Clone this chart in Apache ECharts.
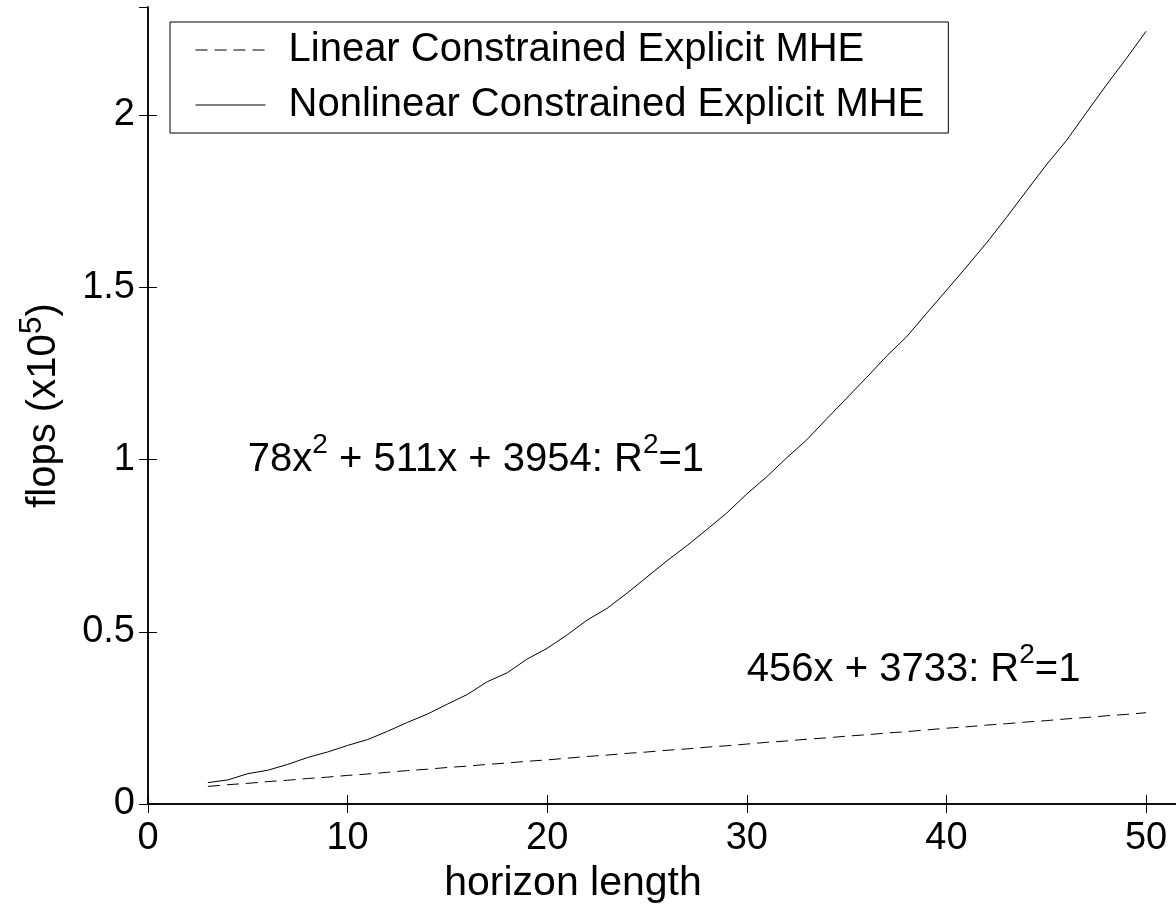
<!DOCTYPE html>
<html>
<head>
<meta charset="utf-8">
<title>flops vs horizon length</title>
<script src="https://cdn.jsdelivr.net/npm/echarts@6/dist/echarts.min.js"></script>
<style>
  html, body { margin: 0; padding: 0; background: #fff; }
  #chart { width: 1176px; height: 917px; }
</style>
</head>
<body>
<div id="chart"></div>
<script>
// Horizon lengths evaluated
const horizon = [3, 4, 5, 6, 7, 8, 9, 10, 11, 12, 13, 14, 15, 16, 17, 18, 19, 20,
  21, 22, 23, 24, 25, 26, 27, 28, 29, 30, 31, 32, 33, 34, 35, 36, 37, 38, 39, 40,
  41, 42, 43, 44, 45, 46, 47, 48, 49, 50];

// Flop counts, in units of 1e5
const linearFlops = [0.051, 0.056, 0.060, 0.065, 0.069, 0.074, 0.078, 0.083, 0.087, 0.092,
  0.097, 0.101, 0.106, 0.110, 0.115, 0.119, 0.124, 0.128, 0.133, 0.138, 0.142, 0.147,
  0.151, 0.156, 0.160, 0.165, 0.169, 0.174, 0.179, 0.183, 0.188, 0.192, 0.197, 0.201,
  0.206, 0.210, 0.215, 0.220, 0.224, 0.229, 0.233, 0.238, 0.242, 0.247, 0.251, 0.256,
  0.260, 0.265];

const nonlinearFlops = [0.062, 0.070, 0.088, 0.098, 0.115, 0.135, 0.151, 0.170, 0.187, 0.211,
  0.237, 0.261, 0.290, 0.318, 0.355, 0.381, 0.421, 0.452, 0.491, 0.534, 0.568, 0.612,
  0.659, 0.706, 0.750, 0.797, 0.845, 0.900, 0.950, 1.005, 1.057, 1.118, 1.178, 1.238,
  1.300, 1.356, 1.424, 1.491, 1.559, 1.628, 1.702, 1.779, 1.855, 1.925, 2.006, 2.086,
  2.163, 2.243];

const seriesNames = ['Linear Constrained Explicit MHE', 'Nonlinear Constrained Explicit MHE'];

// Fit annotations: anchor point (x, y) in data space and rich-text content
const fitAnchors = [[5, 1.0], [30, 0.39]];
const fitTexts = [
  '{t|78x}{s|2}{t| + 511x + 3954: R}{s|2}{t|=1}',
  '{t|456x + 3733: R}{s|2}{t|=1}'
];

const xRange = { min: 0, max: 51.5, interval: 10 };
const yRange = { min: 0, max: 2.3135, interval: 0.5 };

const FONT = 'Arial, "Liberation Sans", Helvetica, sans-serif';
const supRich = {
  t: { fontSize: 40, lineHeight: 56, fontFamily: FONT, fill: '#000', color: '#000', verticalAlign: 'middle' },
  s: { fontSize: 28, lineHeight: 28, fontFamily: FONT, fill: '#000', color: '#000', verticalAlign: 'top' }
};
const yNameRich = {
  t: { fontSize: 40, lineHeight: 56, fontFamily: FONT, color: '#000', verticalAlign: 'middle' },
  s: { fontSize: 32, lineHeight: 32, fontFamily: FONT, color: '#000', verticalAlign: 'top' }
};

const pairs = (ys) => horizon.map((x, i) => [x, ys[i]]);

const axisLine = { show: true, lineStyle: { color: '#000', width: 1.5 } };
const inTicks = { show: true, inside: true, length: 9, lineStyle: { color: '#000', width: 1 } };

const chart = echarts.init(document.getElementById('chart'), null, { renderer: 'canvas' });

chart.setOption({
  backgroundColor: '#fff',
  animation: false,
  grid: { left: 148, top: 7, width: 1034, height: 797, show: false },
  legend: {
    data: seriesNames,
    orient: 'vertical',
    left: 170,
    top: 22,
    padding: [8, 24, 8, 25],
    itemGap: 15,
    itemWidth: 70,
    itemHeight: 14,
    backgroundColor: '#fff',
    borderColor: '#000',
    borderWidth: 1,
    borderRadius: 0,
    selectedMode: false,
    itemStyle: { color: 'rgba(0,0,0,0)', borderWidth: 0, opacity: 0 },
    lineStyle: { width: 1, color: '#000' },
    textStyle: { fontSize: 40, fontFamily: FONT, color: '#000', padding: [0, 0, 0, 18] }
  },
  xAxis: [
    {
      type: 'value', position: 'bottom', ...xRange,
      axisLine, axisTick: inTicks, splitLine: { show: false },
      axisLabel: { fontSize: 38, fontFamily: FONT, color: '#000', margin: 16, showMaxLabel: false },
      name: 'horizon length', nameLocation: 'middle', nameGap: 54,
      nameTextStyle: {
        fontSize: 41, fontFamily: FONT, color: '#000', verticalAlign: 'top',
        padding: [0, 178, 0, 0]
      }
    },
    {
      type: 'value', position: 'top', ...xRange,
      axisLine, axisTick: inTicks, splitLine: { show: false },
      axisLabel: { show: false }
    }
  ],
  yAxis: [
    {
      type: 'value', position: 'left', ...yRange,
      axisLine, axisTick: inTicks, splitLine: { show: false },
      axisLabel: { fontSize: 38, fontFamily: FONT, color: '#000', margin: 13, showMaxLabel: false },
      name: '{t|flops (x10}{s|5}{t|)}', nameLocation: 'middle', nameGap: 76, nameRotate: 90,
      nameTextStyle: { rich: yNameRich }
    },
    {
      type: 'value', position: 'right', ...yRange,
      axisLine, axisTick: inTicks, splitLine: { show: false },
      axisLabel: { show: false }
    }
  ],
  series: [
    {
      name: seriesNames[0], type: 'line', data: pairs(linearFlops),
      symbol: 'none', showSymbol: false,
      lineStyle: { color: '#000', width: 1, type: [12, 7] },
      itemStyle: { color: '#000' }
    },
    {
      name: seriesNames[1], type: 'line', data: pairs(nonlinearFlops),
      symbol: 'none', showSymbol: false,
      lineStyle: { color: '#000', width: 1, type: 'solid' },
      itemStyle: { color: '#000' }
    }
  ]
});

// Fit equations: placed at their data anchors through the grid's coordinate system
chart.setOption({
  graphic: fitAnchors.map((p, i) => {
    const [px, py] = chart.convertToPixel({ gridIndex: 0 }, p);
    return {
      type: 'text', x: px, y: py, silent: true,
      style: {
        text: fitTexts[i], rich: supRich, fill: '#000',
        align: 'left', verticalAlign: 'middle'
      }
    };
  })
});
</script>
</body>
</html>
